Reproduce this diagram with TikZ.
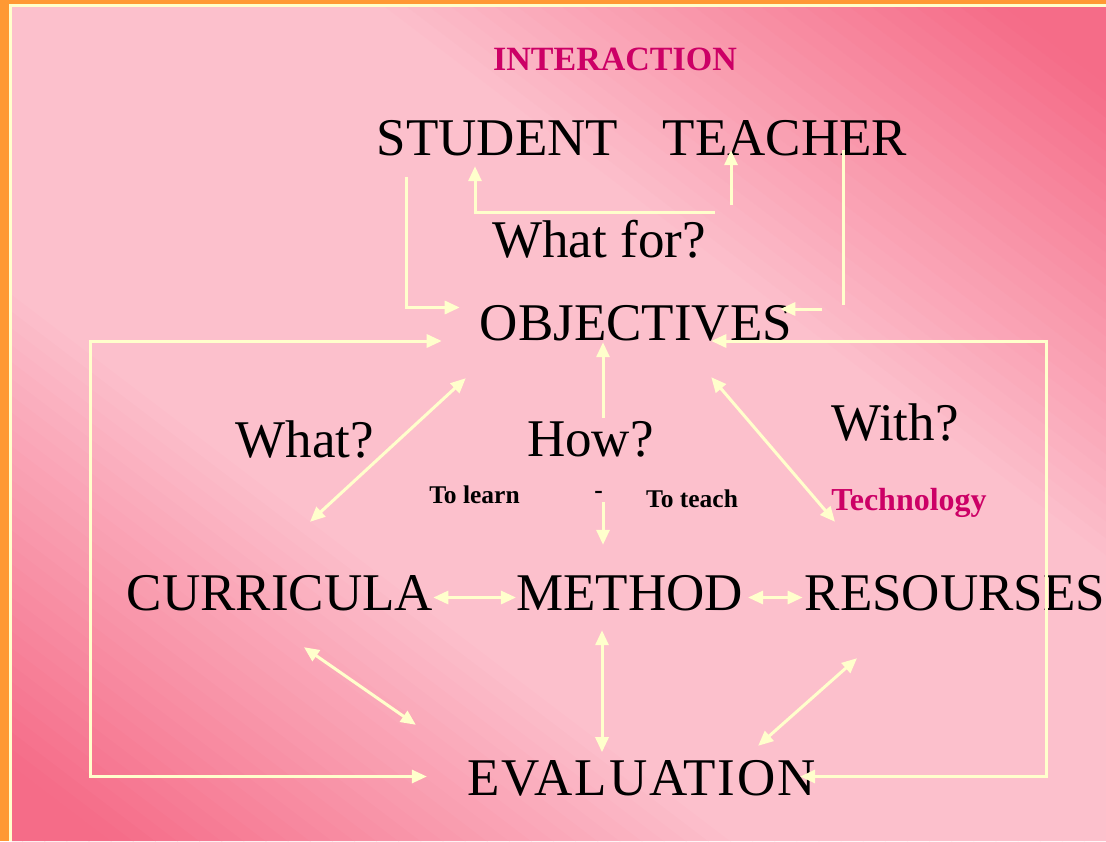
\documentclass[tikz,border=0pt]{standalone}
\usepackage{fontspec}
\setmainfont{Liberation Serif}
\usetikzlibrary{arrows.meta}
\definecolor{cream}{RGB}{255,255,204}
\definecolor{frameorange}{RGB}{255,153,51}
\definecolor{darkpink}{RGB}{245,108,136}
\definecolor{lightpink}{RGB}{252,192,204}
\definecolor{accent}{RGB}{204,0,102}
\tikzstyle{concept}  = [inner sep=0pt, text height=37pt, text depth=0pt, font=\fontsize{53}{53}\selectfont]
\tikzstyle{question} = [inner sep=0pt, anchor=base, font=\fontsize{53}{53}\selectfont]
\tikzstyle{note}     = [inner sep=0pt, anchor=base, font=\bfseries\fontsize{25.5}{25.5}\selectfont]
\tikzstyle{tag}      = [inner sep=0pt, anchor=base, text=accent, font=\bfseries\fontsize{32}{32}\selectfont]
\tikzstyle{flow} = [draw=cream, line width=3pt]

\begin{document}
\begin{tikzpicture}[x=1pt, y=-1pt, >={Triangle[length=15pt,width=13pt]}]
            \useasboundingbox (0,0) rectangle (1106,841);
            % slide background
            \fill[frameorange] (0,0) rectangle (1106,841);
            \fill[cream] (9,4) rectangle (1106,841);
            \begin{scope}
                \clip (12,7) rectangle (1106,841);
                \foreach \i in {-50,...,49} {
                    \pgfmathsetmacro{\shadeval}{100*min(1,max(0,(abs(\i+0.5)/50-0.33)/0.57))}
                    \fill[darkpink!\shadeval!lightpink] ({\i*22.12},0) -- ({(\i+1.05)*22.12},0)
                        -- ({1106+(\i+1.05)*22.12},841) -- ({1106+\i*22.12},841) -- cycle;
                }
            \end{scope}

            \node[tag, font=\bfseries\fontsize{34}{34}\selectfont] (interaction) at (615,70) {INTERACTION};
            \node[concept] (student) at (497.5,136.5) {STUDENT};
            \node[concept, right of=student, node distance=287.5pt] (teacher) {TEACHER};
            \node[question] (whatfor) at (599,257) {What for?};
            \node[concept] (objectives) at (636,321.5) {OBJECTIVES};
            \node[question] (what) at (305,457) {What?};
            \node[question] (how) at (590.5,456) {How?};
            \node[question] (with) at (895,440) {With?};
            \node[note] (tolearn) at (474.5,503) {To learn};
            \node[note] (dash) at (598.5,498) {-};
            \node[note] (toteach) at (692,507) {To teach};
            \node[tag] (technology) at (909,510) {Technology};
            \node[concept] (curricula) at (280,591.5) {CURRICULA};
            \node[concept, right of=curricula, node distance=349.5pt] (method) {METHOD};
            \node[concept, right of=method, node distance=325.5pt] (resourses) {RESOURSES};
            \node[concept, font=\fontsize{53}{53}\selectfont\addfontfeatures{LetterSpace=3.6}] (evaluation) at (641.5,776.5) {EVALUATION};

            % interaction
            \path [flow, ->] ([shift={(-70,57)}]teacher.south) -| ([shift={(-22.5,11)}]student.south);
            \path [flow, ->] ([shift={(-54,50)}]teacher.south) -- ([shift={(-54,-5)}]teacher.south);
            \path [flow, ->] ([shift={(-91.5,22)}]student.south) |- ([shift={(-20,-14)}]objectives.west);
            \path [flow] ([shift={(58,-5)}]teacher.south) -- ++(0,155);
            \path [flow, ->] ([shift={(30,-12.5)}]objectives.east) -- ([shift={(-12,-12.5)}]objectives.east);
            % feedback loops
            \path [flow, <->] ([shift={(-38,19.5)}]objectives.west) -- ++(-351,0) |- ([xshift=-40]evaluation.west);
            \path [flow, <->] ([shift={(-81,19.5)}]objectives.east) -- ++(335,0) |- ([xshift=-16]evaluation.east);
            % how?
            \path [flow, ->] ([shift={(-33,78)}]objectives.south) -- ([shift={(-33,2)}]objectives.south);
            \path [flow, ->] ([shift={(-26.5,-71)}]method.north) -- ([shift={(-26.5,-28)}]method.north);
            \path [flow, <->] ([shift={(-27.5,20)}]method.south) -- ++(0,122);
            % what? and with?
            \path [flow, <->] ([shift={(30,-51)}]curricula.north) -- ([shift={(-14,38)}]objectives.south west);
            \path [flow, <->] ([shift={(-81,37)}]objectives.south east) -- ([shift={(-120,-51)}]resourses.north);
            \path [flow, <->] ([shift={(0,6)}]curricula.east) -- ([shift={(0,6)}]method.west);
            \path [flow, <->] ([shift={(5,6)}]method.east) -- ([shift={(-2,6)}]resourses.west);
            \path [flow, <->] ([shift={(24,37)}]curricula.south) -- ([shift={(-51,-33)}]evaluation.north west);
            \path [flow, <->] ([shift={(-98,48)}]resourses.south) -- ([shift={(-58,-12)}]evaluation.north east);
        \end{tikzpicture}
\end{document}
